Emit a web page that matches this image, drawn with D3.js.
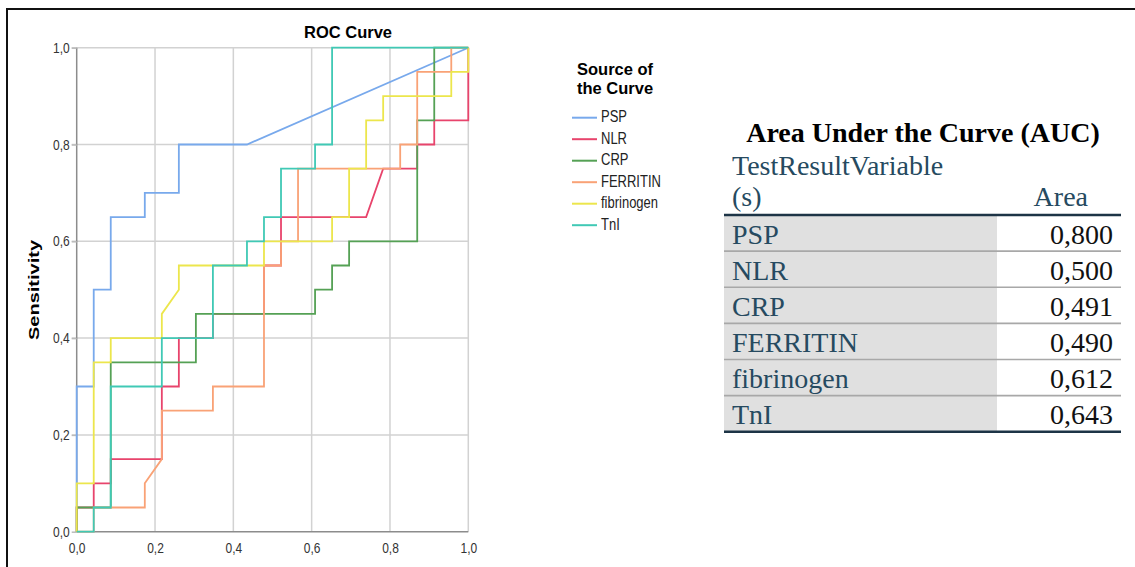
<!DOCTYPE html>
<meta charset="utf-8">
<title>ROC Curve</title>
<style>

body {
  margin: 0;
  background: #fff;
}

text {
  font-family: "Liberation Sans", Arial, sans-serif;
}

.tbl text {
  font-family: "Liberation Serif", "Times New Roman", serif;
}

</style>
<body>
  <script src="https://d3js.org/d3.v7.min.js"></script>
  <script>

  const width = 1135;
  const height = 567;
  const negatives = 23; /* false positive counts below are out of 23 negatives */

  const curveNames = ["PSP", "NLR", "CRP", "FERRITIN", "fibrinogen", "TnI"];
  const curveColors = ["#78a9ec", "#e8446c", "#55a155", "#f9a276", "#ece64c", "#40c9b5"];

  // ROC points: false positives (count) and sensitivity
  const pspFP = [0, 0, 1, 1, 2, 2, 4, 4, 6, 6, 10, 23];
  const pspTP = [0, 0.3, 0.3, 0.5, 0.5, 0.65, 0.65, 0.7, 0.7, 0.8, 0.8, 1];
  const nlrFP = [0, 0, 1, 1, 2, 2, 5, 5, 6, 6, 8, 8, 11, 11, 12, 12, 17, 18, 20, 20, 21, 21, 23, 23];
  const nlrTP = [0, 0.05, 0.05, 0.1, 0.1, 0.15, 0.15, 0.3, 0.3, 0.4, 0.4, 0.45, 0.45, 0.55, 0.55, 0.65, 0.65, 0.75, 0.75, 0.8, 0.8, 0.85, 0.85, 1];
  const crpFP = [0, 0, 2, 2, 7, 7, 14, 14, 15, 15, 16, 16, 20, 20, 21, 21, 23];
  const crpTP = [0, 0.05, 0.05, 0.35, 0.35, 0.45, 0.45, 0.5, 0.5, 0.55, 0.55, 0.6, 0.6, 0.85, 0.85, 1, 1];
  const ferFP = [0, 1, 1, 4, 4, 5, 5, 8, 8, 11, 11, 12, 12, 13, 13, 19, 19, 20, 20, 22, 22, 23];
  const ferTP = [0, 0, 0.05, 0.05, 0.1, 0.15, 0.25, 0.25, 0.3, 0.3, 0.55, 0.55, 0.6, 0.6, 0.75, 0.75, 0.8, 0.8, 0.95, 0.95, 1, 1];
  const fibFP = [0, 0, 1, 1, 2, 2, 5, 5, 6, 6, 11, 11, 15, 15, 16, 16, 17, 17, 18, 18, 22, 22, 23, 23];
  const fibTP = [0, 0.1, 0.1, 0.35, 0.35, 0.4, 0.4, 0.45, 0.5, 0.55, 0.55, 0.6, 0.6, 0.65, 0.65, 0.75, 0.75, 0.85, 0.85, 0.9, 0.9, 0.95, 0.95, 1];
  const tniFP = [0, 1, 1, 2, 2, 5, 5, 8, 8, 10, 10, 11, 11, 12, 12, 14, 14, 15, 15, 23];
  const tniTP = [0, 0, 0.05, 0.05, 0.3, 0.3, 0.4, 0.4, 0.55, 0.55, 0.6, 0.6, 0.65, 0.65, 0.75, 0.75, 0.8, 0.8, 1, 1];

  const allFP = [pspFP, nlrFP, crpFP, ferFP, fibFP, tniFP];
  const allTP = [pspTP, nlrTP, crpTP, ferTP, fibTP, tniTP];

  const aucValues = [0.800, 0.500, 0.491, 0.490, 0.612, 0.643];
  const ticks = [0, 0.2, 0.4, 0.6, 0.8, 1.0];

  const comma = d => d3.format(".1f")(d).replace(".", ",");

  const svg = d3.select("body").append("svg")
      .attr("width", width)
      .attr("height", height);

  svg.append("rect").attr("width", width).attr("height", height).attr("fill", "#fff");

  // outer frame (top and left edges only are visible)
  svg.append("path")
      .attr("d", "M7,567V9H1135")
      .attr("fill", "none")
      .attr("stroke", "#111")
      .attr("stroke-width", 2);

  const x = d3.scaleLinear().domain([0, 1]).range([76.7, 468.3]);
  const y = d3.scaleLinear().domain([0, 1]).range([531.7, 47.7]);

  // grid
  svg.append("g").selectAll("line.v")
      .data(ticks.slice(1))
    .enter().append("line")
      .attr("x1", d => x(d)).attr("x2", d => x(d))
      .attr("y1", y(0)).attr("y2", y(1))
      .attr("stroke", "#d2d2d2").attr("stroke-width", 1.5);

  svg.append("g").selectAll("line.h")
      .data(ticks.slice(1))
    .enter().append("line")
      .attr("x1", x(0) - 5).attr("x2", x(1))
      .attr("y1", d => y(d)).attr("y2", d => y(d))
      .attr("stroke", "#d2d2d2").attr("stroke-width", 1.5);

  // axes
  const yAxis = svg.append("g")
      .attr("transform", "translate(" + x(0) + ",0)")
      .call(d3.axisLeft(y).tickValues(ticks).tickFormat(comma).tickSize(5).tickPadding(2));
  const xAxis = svg.append("g")
      .attr("transform", "translate(0," + y(0) + ")")
      .call(d3.axisBottom(x).tickValues(ticks).tickFormat(comma).tickSize(0).tickPadding(9));

  [yAxis, xAxis].forEach(g => {
    g.select(".domain").attr("stroke", "#8c8c8c").attr("stroke-width", 1.5);
    g.selectAll(".tick line").attr("stroke", "#bbb").attr("stroke-width", 1.5);
    g.selectAll("text")
        .attr("font-family", "'Liberation Sans', Arial, sans-serif")
        .attr("font-size", 12)
        .attr("fill", "#333")
        .attr("transform", "scale(1,1.2)"); /* source picture is a bit stretched vertically */
  });
  yAxis.select(".domain").attr("d", "M0," + y(1) + "V" + y(0));
  xAxis.select(".domain").attr("d", "M" + x(0) + ",0H" + x(1));

  // curves
  const line = d3.line()
      .x(d => x(d[0] / negatives))
      .y(d => y(d[1]));

  svg.append("g").selectAll("path")
      .data(curveNames)
    .enter().append("path")
      .attr("d", (d, i) => line(d3.zip(allFP[i], allTP[i])))
      .attr("fill", "none")
      .attr("stroke", (d, i) => curveColors[i])
      .attr("stroke-width", 1.8);

  // titles
  svg.append("text")
      .attr("x", 348).attr("y", 38)
      .attr("text-anchor", "middle")
      .attr("font-size", 16.5).attr("font-weight", "bold")
      .text("ROC Curve");

  svg.append("text")
      .attr("transform", "translate(39,290)rotate(-90)")
      .attr("text-anchor", "middle")
      .attr("font-size", 15).attr("font-weight", "bold")
      .attr("textLength", 100).attr("lengthAdjust", "spacingAndGlyphs")
      .text("Sensitivity");

  // legend
  const legend = svg.append("g");
  legend.selectAll("text.title")
      .data(["Source of", "the Curve"])
    .enter().append("text")
      .attr("x", 577).attr("y", (d, i) => 75 + i * 19)
      .attr("font-size", 16.5).attr("font-weight", "bold")
      .text(d => d);

  const item = legend.selectAll("g.item")
      .data(curveNames)
    .enter().append("g")
      .attr("transform", (d, i) => "translate(572," + (117.7 + i * 21.5) + ")");
  item.append("line")
      .attr("x1", 0).attr("x2", 25)
      .attr("stroke", (d, i) => curveColors[i]).attr("stroke-width", 2);
  item.append("text")
      .attr("x", 29).attr("y", 4.5)
      .attr("font-size", 13).attr("fill", "#222")
      .attr("transform", "translate(0,-1)scale(1,1.2)")
      .text(d => d);

  // AUC table
  const tbl = svg.append("g").attr("class", "tbl");
  const rowY = d3.scaleBand().domain(curveNames).range([215, 431.7]);
  const left = 724, right = 1121, split = 997;

  tbl.append("text")
      .attr("x", 923).attr("y", 142)
      .attr("text-anchor", "middle")
      .attr("font-size", 28).attr("font-weight", "bold")
      .text("Area Under the Curve (AUC)");
  tbl.append("text").attr("x", 732).attr("y", 175)
      .attr("font-size", 28).attr("fill", "#264a60").text("TestResultVariable");
  tbl.append("text").attr("x", 732).attr("y", 206)
      .attr("font-size", 28).attr("fill", "#264a60").text("(s)");
  tbl.append("text").attr("x", 1088).attr("y", 206)
      .attr("text-anchor", "end")
      .attr("font-size", 28).attr("fill", "#264a60").text("Area");

  tbl.selectAll("rect.cell")
      .data(curveNames)
    .enter().append("rect")
      .attr("x", left).attr("y", d => rowY(d))
      .attr("width", split - left).attr("height", rowY.bandwidth())
      .attr("fill", "#e0e0e0");

  tbl.selectAll("line.sep")
      .data(curveNames.slice(1))
    .enter().append("line")
      .attr("x1", left).attr("x2", right)
      .attr("y1", d => rowY(d)).attr("y2", d => rowY(d))
      .attr("stroke", "#a8a8a8").attr("stroke-width", 1.6);

  tbl.selectAll("line.rule")
      .data([rowY.range()[0], rowY.range()[1]])
    .enter().append("line")
      .attr("x1", left).attr("x2", right)
      .attr("y1", d => d).attr("y2", d => d)
      .attr("stroke", "#1d3446").attr("stroke-width", 2.5);

  tbl.selectAll("text.lab")
      .data(curveNames)
    .enter().append("text")
      .attr("x", 732).attr("y", d => rowY(d) + 28.5)
      .attr("font-size", 28).attr("fill", "#264a60")
      .text(d => d);

  tbl.selectAll("text.val")
      .data(aucValues)
    .enter().append("text")
      .attr("x", 1113).attr("y", (d, i) => rowY(curveNames[i]) + 28.5)
      .attr("text-anchor", "end")
      .attr("font-size", 28).attr("fill", "#111")
      .text(d => d3.format(".3f")(d).replace(".", ","));

  </script>
</body>
